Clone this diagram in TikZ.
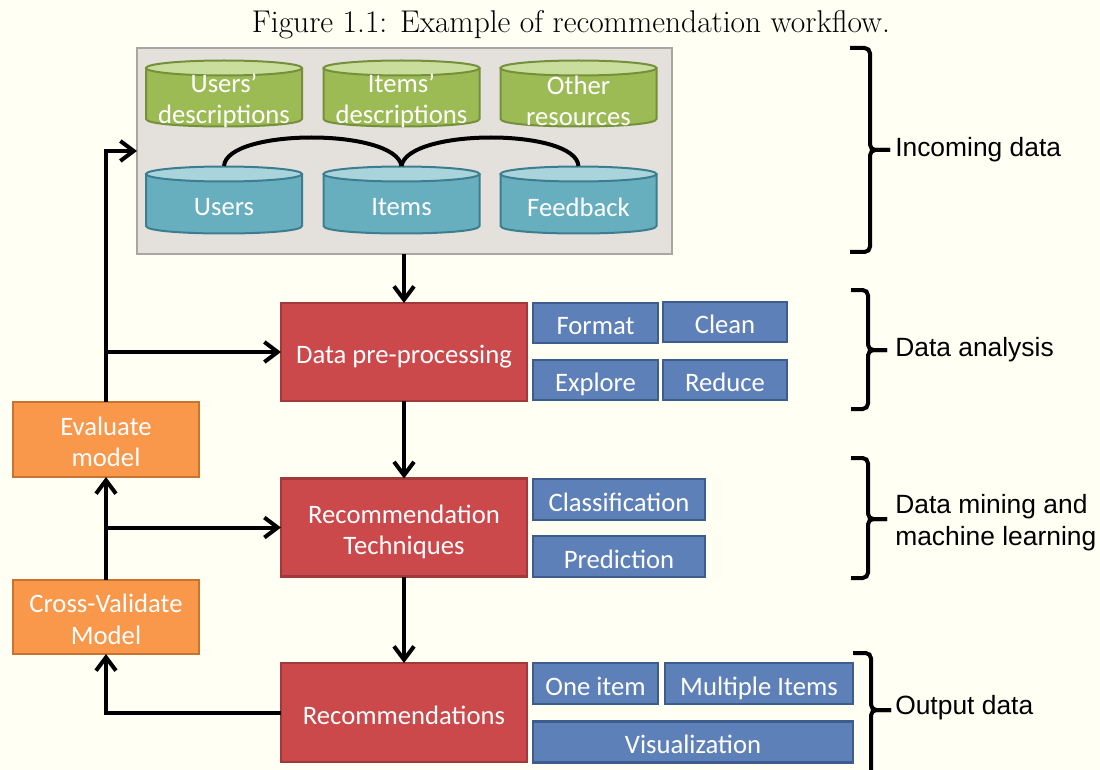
\documentclass[tikz,border=0pt]{standalone}
\usepackage{fontspec}
\newfontfamily\calfont{Carlito}
\newfontfamily\arialfont{Liberation Sans}
\usetikzlibrary{arrows.meta}
\definecolor{bgc}{HTML}{FFFFF4}
\definecolor{grayfill}{HTML}{E4E1DD}
\definecolor{grayline}{HTML}{A8A5A2}
\definecolor{redfill}{HTML}{CB484B}
\definecolor{redline}{HTML}{A0393A}
\definecolor{bluefill}{HTML}{5E80B8}
\definecolor{blueline}{HTML}{3D5E8D}
\definecolor{orfill}{HTML}{F9974A}
\definecolor{orline}{HTML}{C8732E}
\definecolor{grbody}{HTML}{9DBB55}
\definecolor{grtop}{HTML}{C9DE9C}
\definecolor{grline}{HTML}{75903A}
\definecolor{tlbody}{HTML}{67AEBF}
\definecolor{tltop}{HTML}{A9D4DB}
\definecolor{tlline}{HTML}{3C7E90}
\newcommand\cyl[6]{%
  \filldraw[fill=#4,draw=#6,line width=1.5pt,line join=round] (#1-78,#2) -- (#1-78,#3) .. controls (#1-78,#3+10) and (#1+78,#3+10) .. (#1+78,#3) -- (#1+78,#2) -- cycle;
  \filldraw[fill=#5,draw=#6,line width=1.5pt] (#1,#2) ellipse[x radius=78,y radius=7.5];}
\newcommand\twolines[1]{\raisebox{-4pt}[\height][\depth]{\begin{tabular}{@{}c@{}}#1\end{tabular}}}
\begin{document}
\begin{tikzpicture}[x=0.75pt,y=-0.75pt,
  sz/.style 2 args={minimum width=#1*0.75pt, minimum height=#2*0.75pt},
  box/.style={draw, line width=1.6pt, inner sep=0pt, outer sep=0pt, text=white, align=center,
    font=\calfont\fontsize{20}{23.5}\selectfont},
  one/.style={text height=17.25pt, text depth=0pt},
  redbox/.style={box, fill=redfill, draw=redline},
  bluebox/.style={box, one, fill=bluefill, draw=blueline},
  orbox/.style={box, fill=orfill, draw=orline},
  cyltext/.style={inner sep=0pt, text=white, align=center, font=\calfont\fontsize{20}{23}\selectfont},
  cylarea/.style={inner sep=0pt, outer sep=0pt},
  arr/.style={line width=3pt, -{Straight Barb[length=10pt,width=15pt,line width=3pt]}},
  conn/.style={line width=3pt},
  bracket/.style={line width=3pt, rounded corners=4pt},
  lab/.style={inner sep=0pt, anchor=west, align=left, font=\arialfont\fontsize{19.8}{24}\selectfont}]
\clip (0,0) rectangle (1100,770);
\fill[bgc] (0,0) rectangle (1100,770);

% title
\node[inner sep=0pt, anchor=base, font=\fontsize{23.6}{28}\selectfont] (title) at (571,33) {Figure 1.1: Example of recommendation workflow.};

% incoming data box
\node[draw=grayline, fill=grayfill, line width=1.5pt, inner sep=0pt, outer sep=0pt, sz={535}{206}] (incoming) at (404.5,151) {};

% cylinders
\cyl{224}{68}{119}{grbody}{grtop}{grline}
\cyl{401.5}{68}{119}{grbody}{grtop}{grline}
\cyl{578.5}{68}{119}{grbody}{grtop}{grline}
\cyl{224}{174}{226}{tlbody}{tltop}{tlline}
\cyl{401.5}{174}{226}{tlbody}{tltop}{tlline}
\cyl{578.5}{174}{226}{tlbody}{tltop}{tlline}

\node[cylarea, sz={156}{67}] (usersdesc) at (224,93.5) {};
\node[cylarea, sz={156}{67}] (itemsdesc) at (401.5,93.5) {};
\node[cylarea, sz={156}{67}] (other) at (578.5,93.5) {};
\node[cylarea, sz={156}{67}] (users) at (224,199.5) {};
\node[cylarea, sz={156}{67}] (items) at (401.5,199.5) {};
\node[cylarea, sz={156}{67}] (feedback) at (578.5,199.5) {};

\node[cyltext] (usersdescT) at (224,101) {Users’\\descriptions};
\node[cyltext] (itemsdescT) at (401.5,101) {Items’\\descriptions};
\node[cyltext] (otherT) at (578.5,101) {Other\\resources};
\node[cyltext] (usersT) at (224,207) {Users};
\node[cyltext] (itemsT) at (401.5,207) {Items};
\node[cyltext] (feedbackT) at (578.5,207) {Feedback};

\draw[conn] (users.north) .. controls +(3,-38) and +(-6,-38) .. (items.north);
\draw[conn] (items.north) .. controls +(6,-38) and +(-3,-38) .. (feedback.north);

% red boxes
\node[redbox, one, sz={246}{98}] (dpp) at (404,352) {Data pre-processing};
\node[redbox, sz={246}{98}] (rt) at (404,527.5) {\twolines{Recommendation\\Techniques}};
\node[redbox, one, sz={246}{99}] (recs) at (404,712.5) {Recommendations};

% blue boxes
\node[bluebox, sz={125}{40}] (format) at (595.5,323) {Format};
\node[bluebox, sz={124}{40}] (clean) at (725,322) {Clean};
\node[bluebox, sz={125}{40}] (explore) at (595.5,380) {Explore};
\node[bluebox, sz={124}{40}] (reduce) at (725,380) {Reduce};
\node[bluebox, sz={172}{41}] (classif) at (619,499.5) {Classification};
\node[bluebox, sz={172}{41}] (predict) at (619,556.5) {Prediction};
\node[bluebox, sz={125}{41}] (oneitem) at (595.5,683.5) {One item};
\node[bluebox, sz={188}{41}] (multi) at (759,683.5) {Multiple Items};
\node[bluebox, sz={320}{41}] (visu) at (693,742) {Visualization};

% orange boxes
\node[orbox, sz={186}{75}] (evaluate) at (106,439.5) {\twolines{Evaluate\\model}};
\node[orbox, sz={186}{74}] (crossval) at (106,617) {\twolines{Cross-Validate\\Model}};

% main flow arrows
\draw[arr] (dpp.north |- incoming.south) -- (dpp.north);
\draw[arr] (dpp.south) -- (rt.north);
\draw[arr] (rt.south) -- (recs.north);

% feedback loop
\draw[arr] (recs.west) -| (crossval.south);
\draw[arr] (crossval.north) -- (evaluate.south);
\draw[arr] (crossval.north |- rt.west) -- (rt.west);
\draw[arr] (evaluate.north) |- (incoming.west);
\draw[arr] (evaluate.north |- dpp.west) -- (dpp.west);

% brackets
\draw[bracket] (850,48) -- (870,48) -- (870,150) -- (890,150);
\draw[bracket] (850,252) -- (870,252) -- (870,150) -- (890,150);
\draw[bracket] (851,290) -- (868,290) -- (868,350) -- (887,350);
\draw[bracket] (851,409) -- (868,409) -- (868,350) -- (887,350);
\draw[bracket] (851,458) -- (868,458) -- (868,519) -- (887,519);
\draw[bracket] (851,578) -- (868,578) -- (868,519) -- (887,519);
\draw[bracket] (853,653) -- (871,653) -- (871,710) -- (891,710);
\draw[bracket] (853,800) -- (871,800) -- (871,710) -- (891,710);

% labels
\node[lab] (lincoming) at (895,150) {Incoming data};
\node[lab] (lanalysis) at (895,350) {Data analysis};
\node[lab] (lmining) at (895,523) {Data mining and\\machine learning};
\node[lab] (loutput) at (895,708) {Output data};
\end{tikzpicture}
\end{document}
